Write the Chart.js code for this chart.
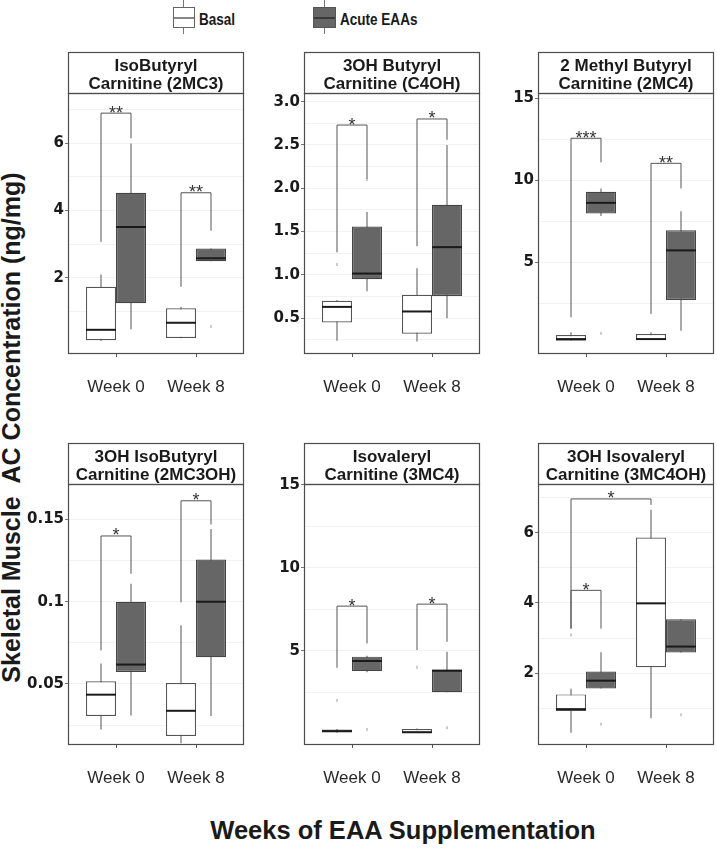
<!DOCTYPE html>
<html><head><meta charset="utf-8">
<script src="https://cdn.jsdelivr.net/npm/chart.js@4.4.1/dist/chart.umd.min.js"></script>
<style>
html,body{margin:0;padding:0;background:#fff;}
body{width:717px;height:851px;position:relative;overflow:hidden;font-family:'Liberation Sans',Arial,Helvetica,sans-serif;color:#1a1a1a;}
.lg{position:absolute;box-sizing:border-box;}
.lgtxt{position:absolute;font-weight:bold;font-size:16.5px;line-height:16.5px;white-space:nowrap;transform:scaleX(0.82);transform-origin:0 0;}
#ytitle{position:absolute;width:620px;left:-299px;top:415px;height:25px;line-height:25px;font-size:25px;font-weight:bold;text-align:center;transform:rotate(-90deg);transform-origin:50% 50%;white-space:nowrap;}
#xtitle{position:absolute;left:103px;width:600px;top:818px;font-size:25.5px;line-height:25.5px;font-weight:bold;text-align:center;white-space:nowrap;}
</style></head><body>
<!-- legend -->
<div class="lg" style="left:183px;top:0;width:1px;height:7px;background:#777"></div>
<div class="lg" style="left:183px;top:28px;width:1px;height:6px;background:#777"></div>
<div class="lg" style="left:173px;top:7px;width:22px;height:21px;border:1px solid #666;background:#fff"></div>
<div class="lg" style="left:174px;top:17px;width:20px;height:1.5px;background:#888"></div>
<div class="lgtxt" style="left:199px;top:11px">Basal</div>
<div class="lg" style="left:324px;top:0;width:1px;height:7px;background:#777"></div>
<div class="lg" style="left:324px;top:28px;width:1px;height:6px;background:#777"></div>
<div class="lg" style="left:313px;top:7px;width:23px;height:21px;border:1px solid #555;background:#666"></div>
<div class="lg" style="left:314px;top:16.5px;width:21px;height:2px;background:#3a3a3a"></div>
<div class="lgtxt" style="left:340px;top:11px">Acute EAAs</div>
<div id="ytitle">Skeletal Muscle&nbsp; AC Concentration (ng/mg)</div>
<div id="xtitle">Weeks of EAA Supplementation</div>
<script>
// ---------------- data ----------------
const weeks = ['Week 0', 'Week 8'];
const weekPos = [1, 2];
const seriesNames = ['Basal', 'Acute EAAs'];

const titles_2MC3 = ['IsoButyryl', 'Carnitine (2MC3)'];
const titles_C4OH = ['3OH Butyryl', 'Carnitine (C4OH)'];
const titles_2MC4 = ['2 Methyl Butyryl', 'Carnitine (2MC4)'];
const titles_2MC3OH = ['3OH IsoButyryl', 'Carnitine (2MC3OH)'];
const titles_3MC4 = ['Isovaleryl', 'Carnitine (3MC4)'];
const titles_3MC4OH = ['3OH Isovaleryl', 'Carnitine (3MC4OH)'];

// five-number summaries per week: [min, q1, median, q3, max]
const basal_2MC3 = [[0.12, 0.14, 0.45, 1.73, 2.10], [0.20, 0.21, 0.66, 1.09, 1.13]];
const acute_2MC3 = [[0.47, 1.24, 3.51, 4.53, 6.00], [2.49, 2.49, 2.58, 2.87, 2.87]];
const basal_C4OH = [[0.24, 0.45, 0.63, 0.70, 0.71], [0.23, 0.32, 0.577, 0.77, 1.075]];
const acute_C4OH = [[0.81, 0.95, 1.015, 1.557, 1.725], [0.50, 0.757, 1.32, 1.81, 2.50]];
const basal_2MC4 = [[0.20, 0.20, 0.30, 0.55, 0.71], [0.24, 0.24, 0.30, 0.61, 0.71]];
const acute_2MC4 = [[7.80, 7.96, 8.61, 9.28, 9.49], [0.81, 2.69, 5.71, 6.94, 8.10]];
const basal_2MC3OH = [[0.0224, 0.0306, 0.0435, 0.0516, 0.0625], [0.0139, 0.0184, 0.0337, 0.0506, 0.0857]];
const acute_2MC3OH = [[0.0308, 0.0573, 0.0618, 0.100, 0.111], [0.0306, 0.0663, 0.100, 0.1257, 0.1443]];
const basal_3MC4 = [[0.05, 0.07, 0.15, 0.25, 0.27], [0.05, 0.05, 0.08, 0.27, 0.30]];
const acute_3MC4 = [[3.70, 3.77, 4.38, 4.64, 4.70], [2.49, 2.49, 3.79, 3.87, 4.94]];
const basal_3MC4OH = [[0.31, 0.93, 0.98, 1.40, 1.56], [0.72, 2.17, 3.99, 5.86, 6.65]];
const acute_3MC4OH = [[1.57, 1.57, 1.79, 2.05, 2.60], [2.59, 2.59, 2.76, 3.54, 3.54]];

// outliers per week
const basalOut_2MC3 = [[], []];       const acuteOut_2MC3 = [[], [0.55]];
const basalOut_C4OH = [[1.12], []];   const acuteOut_C4OH = [[2.10], []];
const basalOut_2MC4 = [[], []];       const acuteOut_2MC4 = [[0.65], []];
const basalOut_2MC3OH = [[], []];     const acuteOut_2MC3OH = [[], []];
const basalOut_3MC4 = [[2.0], [4.0]]; const acuteOut_3MC4 = [[0.25], [0.35]];
const basalOut_3MC4OH = [[3.09], []]; const acuteOut_3MC4OH = [[0.55], [0.82]];

// y axis ranges and ticks
const yRange_2MC3 = [-0.27, 7.5];
const yRange_C4OH = [0.086, 3.10];
const yRange_2MC4 = [-0.61, 15.31];
const yRange_2MC3OH = [0.0129, 0.1716];
const yRange_3MC4 = [-0.69, 15.06];
const yRange_3MC4OH = [-0.04, 7.385];
const yTicks_2MC3 = [1, 2, 3, 4, 5, 6, 7];
const yLabels_2MC3 = ['', '2', '', '4', '', '6', ''];
const yTicks_C4OH = [0.25, 0.5, 0.75, 1, 1.25, 1.5, 1.75, 2, 2.25, 2.5, 2.75, 3];
const yLabels_C4OH = ['', '0.5', '', '1.0', '', '1.5', '', '2.0', '', '2.5', '', '3.0'];
const yTicks_2MC4 = [2.5, 5, 7.5, 10, 12.5, 15];
const yLabels_2MC4 = ['', '5', '', '10', '', '15'];
const yTicks_2MC3OH = [0.025, 0.05, 0.075, 0.1, 0.125, 0.15];
const yLabels_2MC3OH = ['', '0.05', '', '0.1', '', '0.15'];
const yTicks_3MC4 = [2.5, 5, 7.5, 10, 12.5, 15];
const yLabels_3MC4 = ['', '5', '', '10', '', '15'];
const yTicks_3MC4OH = [1, 2, 3, 4, 5, 6, 7];
const yLabels_3MC4OH = ['', '2', '', '4', '', '6', ''];

// significance brackets: [week A, series A, week B, series B, top, leftEnd, rightEnd, label]
const sig_2MC3 = [[0, 0, 0, 1, 6.9, 3.07, 6.15, '**'], [1, 0, 1, 1, 4.53, 1.73, 3.4, '**']];
const sig_C4OH = [[0, 0, 0, 1, 2.73, 1.26, 2.11, '*'], [1, 0, 1, 1, 2.80, 1.33, 2.56, '*']];
const sig_2MC4 = [[0, 0, 0, 1, 12.55, 1.63, 11.08, '***'], [1, 0, 1, 1, 11.02, 1.84, 9.49, '**']];
const sig_2MC3OH = [[0, 0, 0, 1, 0.140, 0.0704, 0.117, '*'], [1, 0, 1, 1, 0.1614, 0.0996, 0.147, '*']];
const sig_3MC4 = [[0, 0, 0, 1, 7.69, 3.97, 5.44, '*'], [1, 0, 1, 1, 7.81, 5.04, 5.54, '*']];
const sig_3MC4OH = [[0, 0, 0, 1, 4.36, 3.27, 3.27, '*'], [0, 0, 1, 0, 6.96, 3.27, 6.79, '*']];

const panels = [
  {title: titles_2MC3, basal: basal_2MC3, acute: acute_2MC3, outs: [basalOut_2MC3, acuteOut_2MC3], range: yRange_2MC3, ticks: yTicks_2MC3, labels: yLabels_2MC3, sig: sig_2MC3},
  {title: titles_C4OH, basal: basal_C4OH, acute: acute_C4OH, outs: [basalOut_C4OH, acuteOut_C4OH], range: yRange_C4OH, ticks: yTicks_C4OH, labels: yLabels_C4OH, sig: sig_C4OH},
  {title: titles_2MC4, basal: basal_2MC4, acute: acute_2MC4, outs: [basalOut_2MC4, acuteOut_2MC4], range: yRange_2MC4, ticks: yTicks_2MC4, labels: yLabels_2MC4, sig: sig_2MC4},
  {title: titles_2MC3OH, basal: basal_2MC3OH, acute: acute_2MC3OH, outs: [basalOut_2MC3OH, acuteOut_2MC3OH], range: yRange_2MC3OH, ticks: yTicks_2MC3OH, labels: yLabels_2MC3OH, sig: sig_2MC3OH},
  {title: titles_3MC4, basal: basal_3MC4, acute: acute_3MC4, outs: [basalOut_3MC4, acuteOut_3MC4], range: yRange_3MC4, ticks: yTicks_3MC4, labels: yLabels_3MC4, sig: sig_3MC4},
  {title: titles_3MC4OH, basal: basal_3MC4OH, acute: acute_3MC4OH, outs: [basalOut_3MC4OH, acuteOut_3MC4OH], range: yRange_3MC4OH, ticks: yTicks_3MC4OH, labels: yLabels_3MC4OH, sig: sig_3MC4OH}
];

// ---------------- layout ----------------
const FONT = "'Liberation Sans', Arial, Helvetica, sans-serif";
const TICKFONT = "'DejaVu Sans', 'Liberation Sans', Arial, sans-serif";
const colLeft = [68, 304, 538];
const stripTop = [52, 443];
const AXW = 64, PW = 176, PH = 261, STRIP = 41, XAH = 46, PADR = 3;

function makePlugin(P) {
  return {
    id: 'boxExtras',
    afterDatasetsDraw(chart) {
      const ctx = chart.ctx, ys = chart.scales.y;
      const stats = [P.basal, P.acute];
      ctx.save();
      // medians
      for (let s = 0; s < 2; s++) {
        const meta = chart.getDatasetMeta(s);
        meta.data.forEach((el, k) => {
          const y = ys.getPixelForValue(stats[s][k][2]);
          ctx.strokeStyle = '#1a1a1a'; ctx.lineWidth = 2;
          ctx.beginPath(); ctx.moveTo(el.x - el.width / 2, y); ctx.lineTo(el.x + el.width / 2, y); ctx.stroke();
        });
      }
      // outliers
      for (let s = 0; s < 2; s++) {
        const meta = chart.getDatasetMeta(s);
        P.outs[s].forEach((vals, k) => {
          const el = meta.data[k];
          vals.forEach(v => {
            const y = ys.getPixelForValue(v);
            ctx.strokeStyle = '#9a9a9a'; ctx.lineWidth = 1;
            ctx.beginPath(); ctx.moveTo(el.x, y - 1.5); ctx.lineTo(el.x, y + 1.5); ctx.stroke();
          });
        });
      }
      // brackets
      P.sig.forEach(b => {
        const xa = chart.getDatasetMeta(b[1]).data[b[0]].x;
        const xb = chart.getDatasetMeta(b[3]).data[b[2]].x;
        const yt = ys.getPixelForValue(b[4]);
        ctx.strokeStyle = '#555'; ctx.lineWidth = 1;
        ctx.beginPath();
        ctx.moveTo(xa, ys.getPixelForValue(b[5])); ctx.lineTo(xa, yt);
        ctx.lineTo(xb, yt); ctx.lineTo(xb, ys.getPixelForValue(b[6]));
        ctx.stroke();
        ctx.fillStyle = '#333'; ctx.font = '18px ' + FONT;
        ctx.textAlign = 'center'; ctx.textBaseline = 'alphabetic';
        ctx.fillText(b[7], (xa + xb) / 2, yt + 5.5);
      });
      ctx.restore();
    },
    afterDraw(chart) {
      const ctx = chart.ctx, a = chart.chartArea;
      ctx.save();
      ctx.strokeStyle = '#4d4d4d'; ctx.lineWidth = 1.2;
      const L = Math.round(a.left) + 0.5, R = Math.round(a.right) - 0.5;
      const T = Math.round(a.top) + 0.5, B = Math.round(a.bottom) - 0.5;
      ctx.strokeRect(L, T, R - L, B - T);
      ctx.strokeRect(L, T - STRIP, R - L, STRIP);
      ctx.fillStyle = '#1a1a1a'; ctx.font = 'bold 17px ' + FONT;
      ctx.textAlign = 'center'; ctx.textBaseline = 'alphabetic';
      const cx = (a.left + a.right) / 2;
      ctx.fillText(P.title[0], cx, a.top - STRIP + 19);
      ctx.fillText(P.title[1], cx, a.top - STRIP + 37.3);
      ctx.restore();
    }
  };
}

panels.forEach((P, i) => {
  const col = i % 3, row = Math.floor(i / 3);
  const W = AXW + PW + PADR, H = 2 + STRIP + PH + XAH;
  const cv = document.createElement('canvas');
  cv.width = W; cv.height = H;
  cv.style.cssText = `position:absolute;left:${colLeft[col] - AXW}px;top:${stripTop[row] - 2}px;width:${W}px;height:${H}px;`;
  document.body.appendChild(cv);
  const boxData = st => st.map((s, k) => ({x: weekPos[k], y: [s[1], s[3]]}));
  const whiskData = st => st.map((s, k) => ({x: weekPos[k], y: [s[0], s[4]]}));
  new Chart(cv, {
    type: 'bar',
    data: {
      datasets: [
        {label: seriesNames[0], data: boxData(P.basal), stack: 'basal', order: 0, backgroundColor: '#ffffff', borderColor: '#555', borderWidth: 1.2, borderSkipped: false},
        {label: seriesNames[1], data: boxData(P.acute), stack: 'acute', order: 0, backgroundColor: '#666666', borderColor: '#444', borderWidth: 1.2, borderSkipped: false},
        {label: seriesNames[0] + ' whisker', data: whiskData(P.basal), stack: 'basal', order: 1, backgroundColor: '#555', borderWidth: 0, maxBarThickness: 1},
        {label: seriesNames[1] + ' whisker', data: whiskData(P.acute), stack: 'acute', order: 1, backgroundColor: '#555', borderWidth: 0, maxBarThickness: 1}
      ]
    },
    options: {
      responsive: false, animation: false, devicePixelRatio: 1,
      layout: {padding: {top: 2 + STRIP, right: PADR, bottom: 0, left: 0}},
      datasets: {bar: {categoryPercentage: 0.75, barPercentage: 1}},
      plugins: {legend: {display: false}, tooltip: {enabled: false}, title: {display: false}},
      scales: {
        x: {
          type: 'linear', min: 0.4, max: 2.6, offset: false,
          grid: {display: true, drawOnChartArea: false, drawTicks: true, tickLength: 3, tickColor: '#555', offset: false},
          border: {display: false},
          afterBuildTicks: ax => { ax.ticks = weekPos.map(v => ({value: v})); },
          ticks: {callback: (v, idx) => weeks[idx], font: {size: 17, family: FONT}, color: '#2a2a2a', padding: 20, autoSkip: false, maxRotation: 0, minRotation: 0},
          afterFit: s => { s.height = XAH; }
        },
        y: {
          type: 'linear', min: P.range[0], max: P.range[1], stacked: false,
          afterBuildTicks: ax => { ax.ticks = P.ticks.map(v => ({value: v})); },
          ticks: {callback: (v, idx) => P.labels[idx], font: {size: 15, weight: 'bold', family: TICKFONT}, color: '#1a1a1a', padding: 1, autoSkip: false},
          grid: {color: 'rgba(0,0,0,0.05)', lineWidth: 1, tickLength: 3, tickColor: c => (P.labels[c.index] ? '#777' : 'rgba(0,0,0,0)')},
          border: {display: false},
          afterFit: s => { s.width = AXW; }
        }
      }
    },
    plugins: [makePlugin(P)]
  });
});
</script>
</body></html>
